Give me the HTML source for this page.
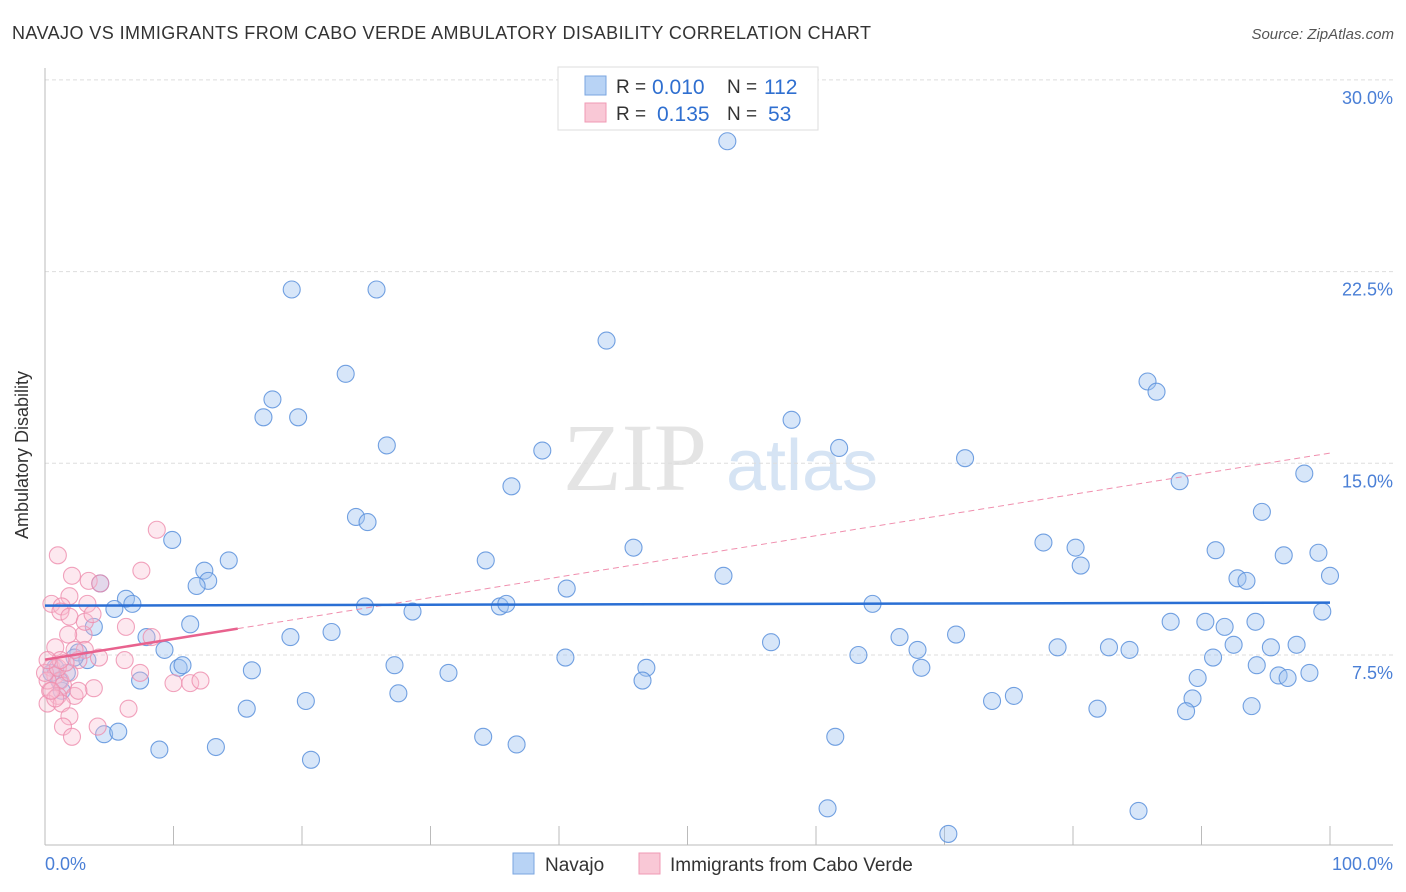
<!DOCTYPE html>
<html><head><meta charset="utf-8"><style>
body{margin:0;background:#fff;font-family:"Liberation Sans",sans-serif}
svg{display:block}
</style></head><body>
<svg id="chart" width="1406" height="892">
<text x="12" y="39" font-size="18" fill="#333" textLength="859" lengthAdjust="spacing">NAVAJO VS IMMIGRANTS FROM CABO VERDE AMBULATORY DISABILITY CORRELATION CHART</text>
<text x="1394" y="39" font-size="15" fill="#555" font-style="italic" text-anchor="end">Source: ZipAtlas.com</text>
<g>
<text x="635" y="490" font-size="96" font-family="Liberation Serif" fill="#e4e4e4" text-anchor="middle">ZIP</text>
<text x="802" y="490" font-size="72" fill="#d6e4f4" text-anchor="middle">atlas</text></g>
<g id="grid"></g>
<line x1="45" y1="68" x2="45" y2="845" stroke="#bbb"/>
<line x1="45" y1="845" x2="1393" y2="845" stroke="#bbb"/>
<text x="28" y="455" font-size="18" fill="#333" text-anchor="middle" transform="rotate(-90 28 455)">Ambulatory Disability</text>
<text x="45" y="870" font-size="18" fill="#4a7fd6">0.0%</text>
<text x="1393" y="870" font-size="18" fill="#4a7fd6" text-anchor="end">100.0%</text>
<g id="marks"></g>
<g>
<rect x="558" y="67" width="260" height="63" fill="#fff" stroke="#ddd"/>
<rect x="585" y="76" width="21" height="19" fill="#b8d3f5" stroke="#7aa6e0"/>
<text x="616" y="93" font-size="19" fill="#333">R =</text>
<text x="652" y="94" font-size="21" fill="#2f6fd0">0.010</text>
<text x="727" y="93" font-size="19" fill="#333">N =</text>
<text x="764" y="94" font-size="21" fill="#2f6fd0">112</text>
<rect x="585" y="103" width="21" height="19" fill="#f9c8d6" stroke="#f09ab4"/>
<text x="616" y="120" font-size="19" fill="#333">R =</text>
<text x="657" y="121" font-size="21" fill="#2f6fd0">0.135</text>
<text x="727" y="120" font-size="19" fill="#333">N =</text>
<text x="768" y="121" font-size="21" fill="#2f6fd0">53</text>
</g>
<g>
<rect x="513" y="853" width="21" height="21" fill="#b8d3f5" stroke="#7aa6e0"/>
<text x="545" y="871" font-size="19" fill="#333">Navajo</text>
<rect x="639" y="853" width="21" height="21" fill="#f9c8d6" stroke="#f09ab4"/>
<text x="670" y="871" font-size="19" fill="#333">Immigrants from Cabo Verde</text>
</g>
</svg>
<script>
const yTicks=[7.5,15,22.5,30];
const yTickLabels=["7.5%","15.0%","22.5%","30.0%"];
const xTicks=[0,10,20,30,40,50,60,70,80,90,100];
const navajoX=[53.1,19.2,25.8,43.7,23.4,85.8,86.5,17.7,17.0,19.7,58.1,26.6,38.7,61.8,71.6,36.3,88.3,98.0,24.2,25.1,94.7,9.9,45.8,77.7,80.2,91.1,96.4,99.1,34.3,14.3,80.6,12.4,12.7,52.8,92.8,93.5,100.0,11.8,4.3,40.6,6.3,6.8,5.4,35.4,35.9,24.9,28.6,64.4,99.4,11.3,3.8,22.3,87.6,90.3,91.8,94.2,7.9,19.1,70.9,66.5,56.5,9.3,78.8,82.8,84.4,95.4,97.4,67.9,2.6,3.3,40.5,63.3,27.2,92.5,90.9,94.3,10.4,10.7,16.1,46.8,31.4,68.2,96.0,96.7,98.4,89.7,7.4,46.5,1.7,0.8,1.3,27.5,75.4,73.7,20.3,89.3,15.7,81.9,88.8,93.9,4.6,5.7,61.5,34.1,36.7,13.3,8.9,20.7,60.9,85.1,70.3,2.3,1.1,0.5];
const navajoY=[27.6,21.8,21.8,19.8,18.5,18.2,17.8,17.5,16.8,16.8,16.7,15.7,15.5,15.6,15.2,14.1,14.3,14.6,12.9,12.7,13.1,12.0,11.7,11.9,11.7,11.6,11.4,11.5,11.2,11.2,11.0,10.8,10.4,10.6,10.5,10.4,10.6,10.2,10.3,10.1,9.7,9.5,9.3,9.4,9.5,9.4,9.2,9.5,9.2,8.7,8.6,8.4,8.8,8.8,8.6,8.8,8.2,8.2,8.3,8.2,8.0,7.7,7.8,7.8,7.7,7.8,7.9,7.7,7.6,7.3,7.4,7.5,7.1,7.9,7.4,7.1,7.0,7.1,6.9,7.0,6.8,7.0,6.7,6.6,6.8,6.6,6.5,6.5,6.8,7.0,6.1,6.0,5.9,5.7,5.7,5.8,5.4,5.4,5.3,5.5,4.4,4.5,4.3,4.3,4.0,3.9,3.8,3.4,1.5,1.4,0.5,7.4,6.5,6.8];
const caboX=[8.7,1.0,2.1,3.4,7.5,4.3,1.9,0.5,1.3,3.3,1.2,1.9,3.0,6.3,1.8,0.8,3.1,4.2,2.6,6.2,7.4,0.5,0.8,1.2,1.4,1.9,10.0,11.3,12.1,3.8,0.4,1.0,2.3,0.2,1.3,6.5,1.9,1.4,4.1,2.1,3.1,8.3,0.2,0.0,1.0,1.6,0.8,2.6,3.7,0.5,1.2,0.2,2.3];
const caboY=[12.4,11.4,10.6,10.4,10.8,10.3,9.8,9.5,9.4,9.5,9.2,9.0,8.3,8.6,8.3,7.8,7.7,7.4,7.3,7.3,6.8,7.0,6.7,6.5,6.3,6.8,6.4,6.4,6.5,6.2,6.1,5.9,5.9,5.6,5.6,5.4,5.1,4.7,4.7,4.3,8.8,8.2,6.5,6.8,7.0,7.2,5.8,6.1,9.1,6.1,7.3,7.3,7.7];
const navajoTrend=[9.43,9.55];
const caboTrend=[7.32,15.4];
const caboSolidEnd=15;
const NS='http://www.w3.org/2000/svg';
const xs=v=>45+v*12.85;
const ys=v=>846.7-v*25.56;
const grid=document.getElementById('grid'),marks=document.getElementById('marks');
function mk(tag,at,parent){const e=document.createElementNS(NS,tag);for(const k in at)e.setAttribute(k,at[k]);parent.appendChild(e);return e;}
yTicks.forEach((t,i)=>{
 const l=mk('line',{x1:45,x2:1393,y1:ys(t),y2:ys(t),stroke:'#ddd','stroke-dasharray':'4,3'},grid);
 
 
 const tx=mk('text',{x:1393,y:ys(t)+24,'font-size':18,fill:'#4a7fd6','text-anchor':'end'},grid);
 tx.textContent=yTickLabels[i];
 
 
});
xTicks.forEach(t=>{
 const l=mk('line',{x1:xs(t),x2:xs(t),y1:826,y2:845,stroke:'#bbb'},grid);
 
 
});
navajoX.forEach((x,i)=>{
 const c=mk('circle',{cx:xs(x),cy:ys(navajoY[i]),r:8.5,fill:'rgba(160,195,240,0.42)',stroke:'rgba(90,145,220,0.85)','stroke-width':1.1},marks);
 
 
});
caboX.forEach((x,i)=>{
 const c=mk('circle',{cx:xs(x),cy:ys(caboY[i]),r:8.5,fill:'rgba(248,190,208,0.35)',stroke:'rgba(238,140,172,0.8)','stroke-width':1.1},marks);
 
 
});
const cy=x=>caboTrend[0]+(caboTrend[1]-caboTrend[0])*x/100;
const d=mk('line',{x1:xs(caboSolidEnd),y1:ys(cy(caboSolidEnd)),x2:xs(100),y2:ys(caboTrend[1]),stroke:'#f08fae','stroke-width':1,'stroke-dasharray':'6,4'},marks);


const s=mk('line',{x1:xs(0),y1:ys(caboTrend[0]),x2:xs(caboSolidEnd),y2:ys(cy(caboSolidEnd)),stroke:'#e8628e','stroke-width':2.5},marks);


const b=mk('line',{x1:xs(0),y1:ys(navajoTrend[0]),x2:xs(100),y2:ys(navajoTrend[1]),stroke:'#2a6fd4','stroke-width':2.5},marks);


</script>
</body></html>
